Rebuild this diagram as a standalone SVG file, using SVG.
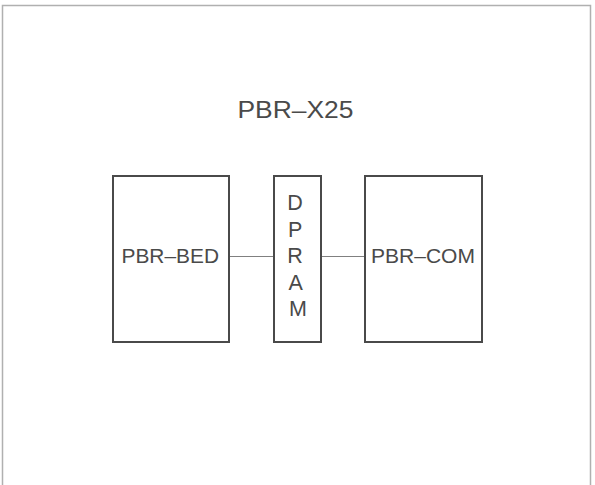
<svg xmlns="http://www.w3.org/2000/svg" width="595" height="485" viewBox="0 0 595 485">
  <style>
    .box { fill: #ffffff; stroke: #4a4a4a; stroke-width: 2; }
    .lbl { font-family: "Liberation Sans", Arial, Helvetica, sans-serif; fill: #4a4a4a; }
    .conn { stroke: #808080; stroke-width: 1; fill: none; }
    .frame { stroke: #b0b0b0; stroke-width: 1.5; fill: none; }
  </style>
  <rect width="595" height="485" fill="#ffffff"/>
  <polyline class="frame" points="2.5,485 2.5,5.5 590.5,5.5 590.5,485"/>
  <text class="lbl" x="237.5" y="118" font-size="23" textLength="116" lengthAdjust="spacingAndGlyphs">PBR–X25</text>
  <g id="connectors">
    <line class="conn" x1="229" y1="256.5" x2="274" y2="256.5"/>
    <line class="conn" x1="321" y1="256.5" x2="365" y2="256.5"/>
  </g>
  <g id="pbr-bed">
    <rect class="box" x="113" y="176" width="116" height="166"/>
    <text class="lbl" x="121.5" y="263" font-size="21" textLength="97.5" lengthAdjust="spacingAndGlyphs">PBR–BED</text>
  </g>
  <g id="dpram">
    <rect class="box" x="274" y="176" width="47" height="166"/>
    <text class="lbl" font-size="21.5" text-anchor="middle">
      <tspan x="298" y="210">D</tspan>
      <tspan x="298" y="236.5">P</tspan>
      <tspan x="298" y="263">R</tspan>
      <tspan x="298" y="289.5">A</tspan>
      <tspan x="298" y="316">M</tspan>
    </text>
  </g>
  <g id="pbr-com">
    <rect class="box" x="365" y="176" width="117" height="166"/>
    <text class="lbl" x="371" y="263" font-size="21" textLength="104" lengthAdjust="spacingAndGlyphs">PBR–COM</text>
  </g>
</svg>
